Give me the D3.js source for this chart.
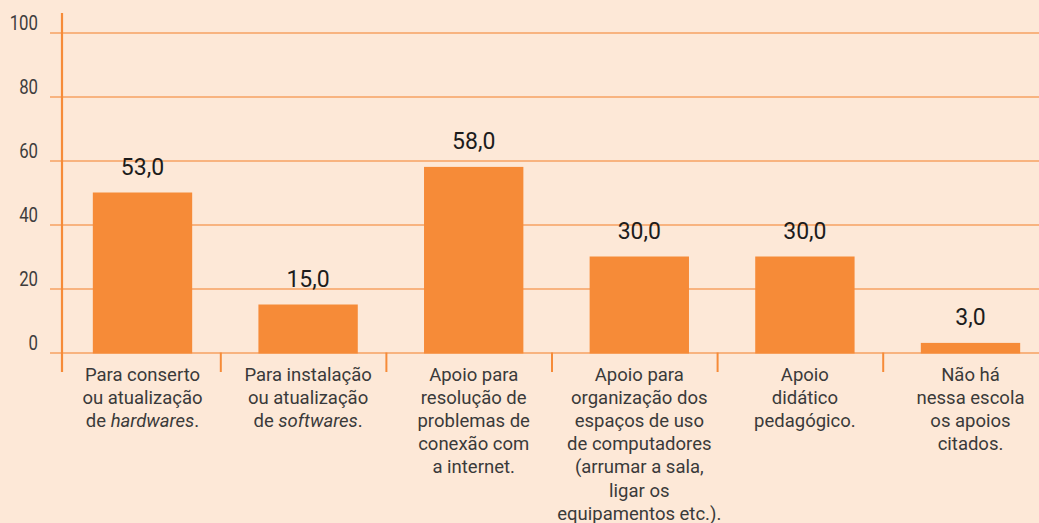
<!DOCTYPE html>
<html>
<head>
<meta charset="utf-8">
<script src="https://cdn.jsdelivr.net/npm/d3@7"></script>
<style>
  html, body { margin: 0; padding: 0; background: #fde8d7; }
  svg { display: block; font-family: Roboto, "Noto Sans", sans-serif; }
</style>
</head>
<body>
<svg id="chart" width="1039" height="523"></svg>
<script>
/* Bar chart: support received by schools for computer use.
   Note: the printed value of the first bar (53,0) does not match the height
   it is drawn at (about 50), so heights and printed labels are kept apart. */

const categories = [
    ['Para conserto', 'ou atualização', 'de *hardwares*.'],
    ['Para instalação', 'ou atualização', 'de *softwares*.'],
    ['Apoio para', 'resolução de', 'problemas de', 'conexão com', 'a internet.'],
    ['Apoio para', 'organização dos', 'espaços de uso', 'de computadores', '(arrumar a sala,', 'ligar os', 'equipamentos etc.).'],
    ['Apoio', 'didático', 'pedagógico.'],
    ['Não há', 'nessa escola', 'os apoios', 'citados.']
];
const barHeights = [50, 15, 58, 30, 30, 3];
const printedValues = [53, 15, 58, 30, 30, 3];
const yTicks = [0, 20, 40, 60, 80, 100];

const colors = {
    bar: '#f68b38',
    grid: '#f6a262',
    axis: '#f68b38',
    tickText: '#3d3d3d',
    labelText: '#3a3a3a',
    valueText: '#1c1c1c'
};

const svg = d3.select('#chart');
const W = 1039;
const STEP = 165.6, X0 = 59.7;

const y = d3.scaleLinear().domain([0, 100]).range([352.5, 32.5]);
const x = d3.scaleBand()
    .domain(d3.range(categories.length))
    .range([X0, X0 + STEP * categories.length])
    .paddingInner(0.4)
    .paddingOuter(0.2);

// gridlines + tick labels
const yAxis = svg.append('g')
    .attr('transform', 'translate(50,0)')
    .call(d3.axisRight(y).tickValues(yTicks).tickSize(W - 50).tickFormat(d3.format('d')));
yAxis.select('.domain').remove();
yAxis.selectAll('.tick line')
    .attr('stroke', colors.grid)
    .attr('stroke-width', 1.5);
yAxis.selectAll('.tick text')
    .attr('x', null).attr('dy', null)
    .attr('transform', 'translate(-12,-3.5) scale(0.84,1)')
    .attr('text-anchor', 'end')
    .attr('fill', colors.tickText)
    .style('font-size', '20px')
    .style('font-family', 'Roboto, sans-serif');

// separators between categories under the baseline
svg.append('g').selectAll('line')
    .data(d3.range(1, categories.length))
    .join('line')
    .attr('x1', i => X0 + i * STEP - 4.5)
    .attr('x2', i => X0 + i * STEP - 4.5)
    .attr('y1', y(0))
    .attr('y2', 372)
    .attr('stroke', colors.axis)
    .attr('stroke-width', 2);

// bars
svg.append('g').selectAll('rect')
    .data(barHeights)
    .join('rect')
    .attr('x', (d, i) => x(i))
    .attr('width', x.bandwidth())
    .attr('y', d => y(d))
    .attr('height', d => y(0) - y(d) + 1)
    .attr('fill', colors.bar);

// y axis line
svg.append('line')
    .attr('x1', 62).attr('x2', 62)
    .attr('y1', 13).attr('y2', 372)
    .attr('stroke', colors.axis)
    .attr('stroke-width', 2.2);

// printed values
const fmt = v => d3.format('.1f')(v).replace('.', ',');
svg.append('g').selectAll('text')
    .data(printedValues)
    .join('text')
    .attr('x', (d, i) => x(i) + x.bandwidth() / 2)
    .attr('y', (d, i) => y(barHeights[i]) - 18)
    .attr('text-anchor', 'middle')
    .attr('fill', colors.valueText)
    .style('font-size', '23px')
    .text(fmt);

// category labels, *word* = italic
const labels = svg.append('g').selectAll('text')
    .data(categories)
    .join('text')
    .attr('text-anchor', 'middle')
    .attr('fill', colors.labelText)
    .style('font-size', '18.5px');

labels.each(function(lines, i) {
    let t = d3.select(this);
    let cx = x(i) + x.bandwidth() / 2;
    lines.forEach((line, k) => {
        let row = t.append('tspan')
            .attr('x', cx)
            .attr('y', 381 + k * 23.1);
        line.split('*').forEach((part, j) => {
            if (!part) return;
            row.append('tspan')
                .style('font-style', j % 2 ? 'italic' : 'normal')
                .text(part);
        });
    });
});
</script>
</body>
</html>
